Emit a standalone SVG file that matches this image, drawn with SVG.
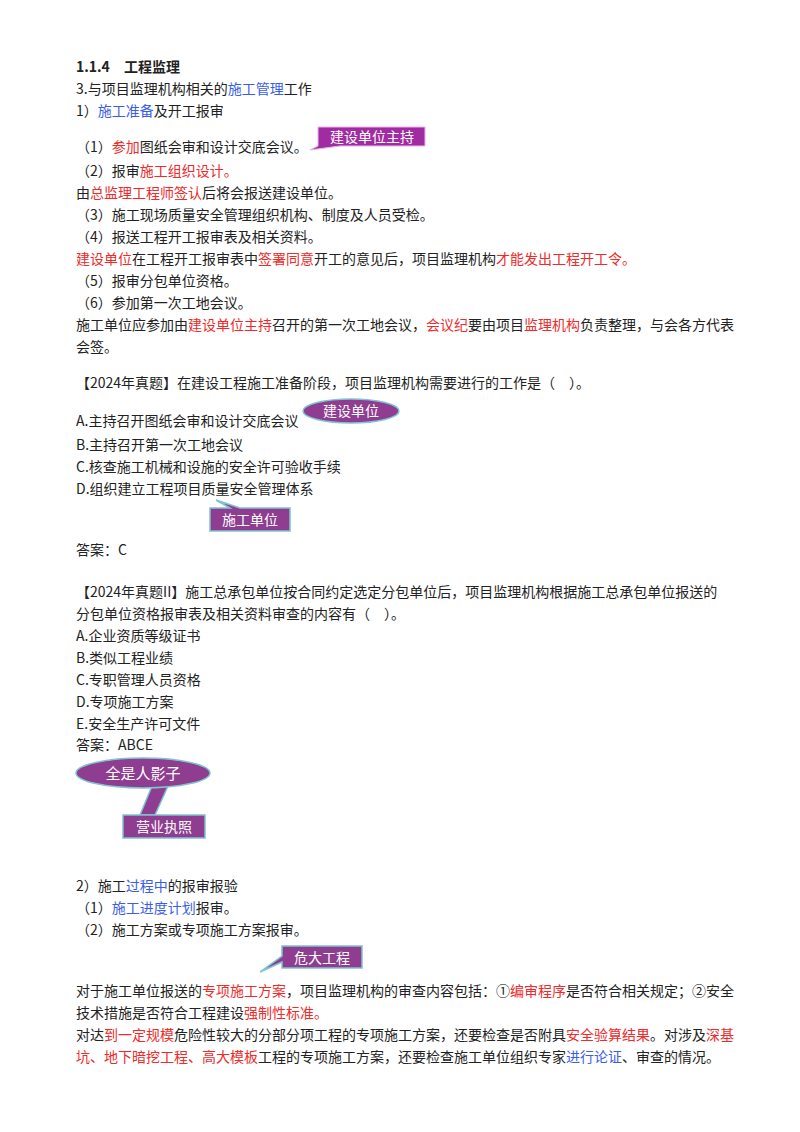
<svg xmlns="http://www.w3.org/2000/svg" width="800" height="1132" viewBox="0 0 800 1132">
<style>
text{font-family:"Noto Sans CJK SC","Liberation Serif",serif;font-size:14px;fill:#222}
.r{fill:#ee2a2a}.b{fill:#3b5ee8}
.co{fill:#8e3d90;stroke:#7fc3cf;stroke-width:1.5}
.ct{fill:#fff;font-size:14px;text-anchor:middle}
</style>
<rect width="800" height="1132" fill="#fff"/>
<g id="text">
<text x="76" y="72" font-weight="bold">1.1.4　工程监理</text>
<text x="76" y="94">3.与项目监理机构相关的<tspan class="b">施工管理</tspan>工作</text>
<text x="76" y="116">1）<tspan class="b">施工准备</tspan>及开工报审</text>
<text x="76" y="152">（1）<tspan class="r">参加</tspan>图纸会审和设计交底会议。</text>
<text x="76" y="176">（2）报审<tspan class="r">施工组织设计。</tspan></text>
<text x="76" y="198">由<tspan class="r">总监理工程师签认</tspan>后将会报送建设单位。</text>
<text x="76" y="220">（3）施工现场质量安全管理组织机构、制度及人员受检。</text>
<text x="76" y="242">（4）报送工程开工报审表及相关资料。</text>
<text x="76" y="264"><tspan class="r">建设单位</tspan>在工程开工报审表中<tspan class="r">签署同意</tspan>开工的意见后，项目监理机构<tspan class="r">才能发出工程开工令。</tspan></text>
<text x="76" y="286">（5）报审分包单位资格。</text>
<text x="76" y="308">（6）参加第一次工地会议。</text>
<text x="76" y="330">施工单位应参加由<tspan class="r">建设单位主持</tspan>召开的第一次工地会议，<tspan class="r">会议纪</tspan>要由项目<tspan class="r">监理机构</tspan>负责整理，与会各方代表</text>
<text x="76" y="352">会签。</text>
<text x="76" y="388">【2024年真题】在建设工程施工准备阶段，项目监理机构需要进行的工作是（　）。</text>
<text x="76" y="426">A.主持召开图纸会审和设计交底会议</text>
<text x="76" y="450">B.主持召开第一次工地会议</text>
<text x="76" y="472">C.核查施工机械和设施的安全许可验收手续</text>
<text x="76" y="494">D.组织建立工程项目质量安全管理体系</text>
<text x="76" y="555">答案：C</text>
<text x="76" y="597">【2024年真题II】施工总承包单位按合同约定选定分包单位后，项目监理机构根据施工总承包单位报送的</text>
<text x="76" y="619">分包单位资格报审表及相关资料审查的内容有（　）。</text>
<text x="76" y="641">A.企业资质等级证书</text>
<text x="76" y="663">B.类似工程业绩</text>
<text x="76" y="685">C.专职管理人员资格</text>
<text x="76" y="707">D.专项施工方案</text>
<text x="76" y="729">E.安全生产许可文件</text>
<text x="76" y="750">答案：ABCE</text>
<text x="76" y="891">2）施工<tspan class="b">过程中</tspan>的报审报验</text>
<text x="76" y="913">（1）<tspan class="b">施工进度计划</tspan>报审。</text>
<text x="76" y="935">（2）施工方案或专项施工方案报审。</text>
<text x="76" y="996">对于施工单位报送的<tspan class="r">专项施工方案</tspan>，项目监理机构的审查内容包括：①<tspan class="r">编审程序</tspan>是否符合相关规定；②安全</text>
<text x="76" y="1018">技术措施是否符合工程建设<tspan class="r">强制性标准。</tspan></text>
<text x="76" y="1040">对达<tspan class="r">到一定规模</tspan>危险性较大的分部分项工程的专项施工方案，还要检查是否附具<tspan class="r">安全验算结果</tspan>。对涉及<tspan class="r">深基</tspan></text>
<text x="76" y="1062"><tspan class="r">坑、地下暗挖工程、高大模板</tspan>工程的专项施工方案，还要检查施工单位组织专家<tspan class="b">进行论证</tspan>、审查的情况。</text>
</g>
<g id="connectors"></g>
<g id="callout1">
<path d="M318,127H425V146H340L310,150L318,146Z" fill="#a12ba3" stroke="#e6b7e6" stroke-width="1"/>
<text class="ct" x="372" y="142">建设单位主持</text>
</g>
<g id="callout2">
<ellipse class="co" cx="351" cy="411" rx="48" ry="12"/>
<text class="ct" x="351" y="416">建设单位</text>
</g>
<g id="callout3">
<path class="co" d="M210,508H230L216,500L240,508H290V531H210Z"/>
<text class="ct" x="250" y="525">施工单位</text>
</g>
<g id="callout4">
<path class="co" d="M140,815L152,786L168,786L155,815Z"/>
<ellipse class="co" cx="143" cy="773" rx="67" ry="15"/>
<text class="ct" x="143" y="779" style="font-size:15px">全是人影子</text>
<rect class="co" x="123" y="815" width="82" height="23"/>
<text class="ct" x="164" y="832">营业执照</text>
</g>
<g id="callout5">
<path class="co" d="M282,946H362V968H282V962L260,972L282,956Z"/>
<text class="ct" x="322" y="963">危大工程</text>
</g>
</svg>
